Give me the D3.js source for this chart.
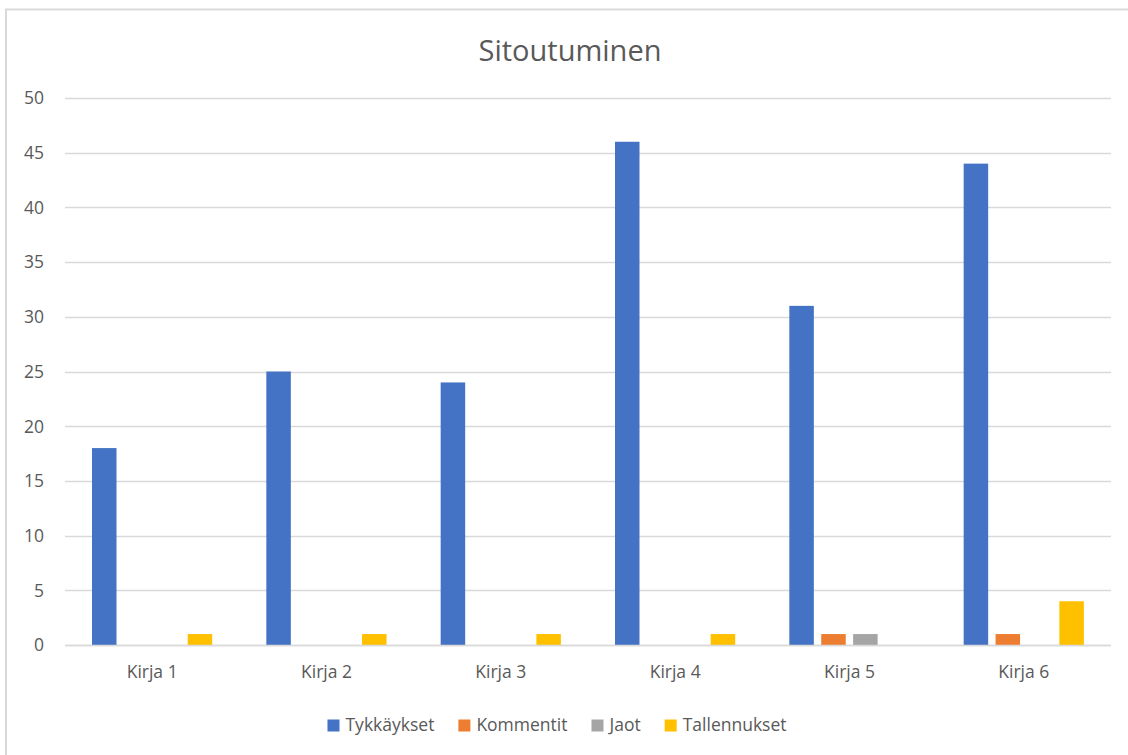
<!DOCTYPE html>
<html>
<head>
<meta charset="utf-8">
<script src="https://cdn.jsdelivr.net/npm/d3@7"></script>
<style>
  body { margin: 0; background: #fff; }
  svg text { font-family: "Open Sans", "Segoe UI", sans-serif; fill: #595959; }
</style>
</head>
<body>
<svg id="chart" width="1128" height="755"></svg>
<script>
var categories = ["Kirja 1", "Kirja 2", "Kirja 3", "Kirja 4", "Kirja 5", "Kirja 6"];
var seriesNames = ["Tykkäykset", "Kommentit", "Jaot", "Tallennukset"];
var tykkaykset = [18, 25, 24, 46, 31, 44];
var kommentit = [0, 0, 0, 0, 1, 1];
var jaot = [0, 0, 0, 0, 1, 0];
var tallennukset = [1, 1, 1, 1, 0, 4];
var yTicks = [0, 5, 10, 15, 20, 25, 30, 35, 40, 45, 50];
var colors = ["#4472C4", "#ED7D31", "#A5A5A5", "#FFC000"];

var seriesValues = [tykkaykset, kommentit, jaot, tallennukset];

var svg = d3.select("#chart");

// chart frame
svg.append("rect")
	.attr("x", 6).attr("y", 9.5)
	.attr("width", 1130).attr("height", 760)
	.attr("fill", "none")
	.attr("stroke", "#d9d9d9")
	.attr("stroke-width", 2);

var plot = { left: 65, right: 1111, top: 98, bottom: 645 };

var x0 = d3.scaleBand()
	.domain(categories)
	.range([plot.left, plot.right])
	.padding(0);

var x1 = d3.scaleBand()
	.domain(seriesNames)
	.range([27, 147.2])
	.paddingInner(0.232)
	.paddingOuter(0);

var y = d3.scaleLinear()
	.domain([0, 50])
	.range([plot.bottom, plot.top]);

// gridlines
svg.append("g")
	.selectAll("line")
	.data(yTicks)
	.enter().append("line")
		.attr("x1", plot.left)
		.attr("x2", plot.right)
		.attr("y1", function(d){ return Math.round(y(d)) + 0.5; })
		.attr("y2", function(d){ return Math.round(y(d)) + 0.5; })
		.attr("stroke", "#d9d9d9")
		.attr("stroke-width", 1.3);

// y tick labels
svg.append("g")
	.selectAll("text")
	.data(yTicks)
	.enter().append("text")
		.attr("x", 44)
		.attr("y", function(d){ return y(d); })
		.attr("dy", "0.36em")
		.attr("text-anchor", "end")
		.style("font-size", "17.5px")
		.text(function(d){ return d; });

// bars
var groups = svg.append("g")
	.selectAll("g")
	.data(categories)
	.enter().append("g")
		.attr("transform", function(d){ return "translate(" + x0(d) + ",0)"; });

groups.selectAll("rect")
	.data(function(d, i){
		return seriesNames.map(function(s, j){
			return { series: s, value: seriesValues[j][i], color: colors[j] };
		});
	})
	.enter().append("rect")
		.attr("x", function(d){ return x1(d.series); })
		.attr("y", function(d){ return y(d.value); })
		.attr("width", x1.bandwidth())
		.attr("height", function(d){ return y(0) - y(d.value); })
		.attr("fill", function(d){ return d.color; });

// x axis line over bars
svg.append("line")
	.attr("x1", plot.left).attr("x2", plot.right)
	.attr("y1", Math.round(y(0)) + 0.5).attr("y2", Math.round(y(0)) + 0.5)
	.attr("stroke", "#d9d9d9")
	.attr("stroke-width", 1.3);

// category labels
svg.append("g")
	.selectAll("text")
	.data(categories)
	.enter().append("text")
		.attr("x", function(d){ return x0(d) + x0.bandwidth() / 2; })
		.attr("y", 678)
		.attr("text-anchor", "middle")
		.style("font-size", "17.5px")
		.text(function(d){ return d; });

// title
svg.append("text")
	.attr("x", 570)
	.attr("y", 61)
	.attr("text-anchor", "middle")
	.style("font-size", "29px")
	.text("Sitoutuminen");

// legend
var legend = svg.append("g");
var lx = 0;
seriesNames.forEach(function(s, i){
	var g = legend.append("g");
	g.append("rect")
		.attr("x", 0).attr("y", -11.5)
		.attr("width", 12).attr("height", 12)
		.attr("fill", colors[i]);
	var t = g.append("text")
		.attr("x", 18).attr("y", 0)
		.style("font-size", "17.5px")
		.text(s);
	var w = t.node().getComputedTextLength();
	g.attr("transform", "translate(" + lx + ",0)");
	lx += 18 + w + 24;
});
var legendWidth = lx - 24;
legend.attr("transform", "translate(" + (557 - legendWidth / 2) + ",731)");
</script>
</body>
</html>
